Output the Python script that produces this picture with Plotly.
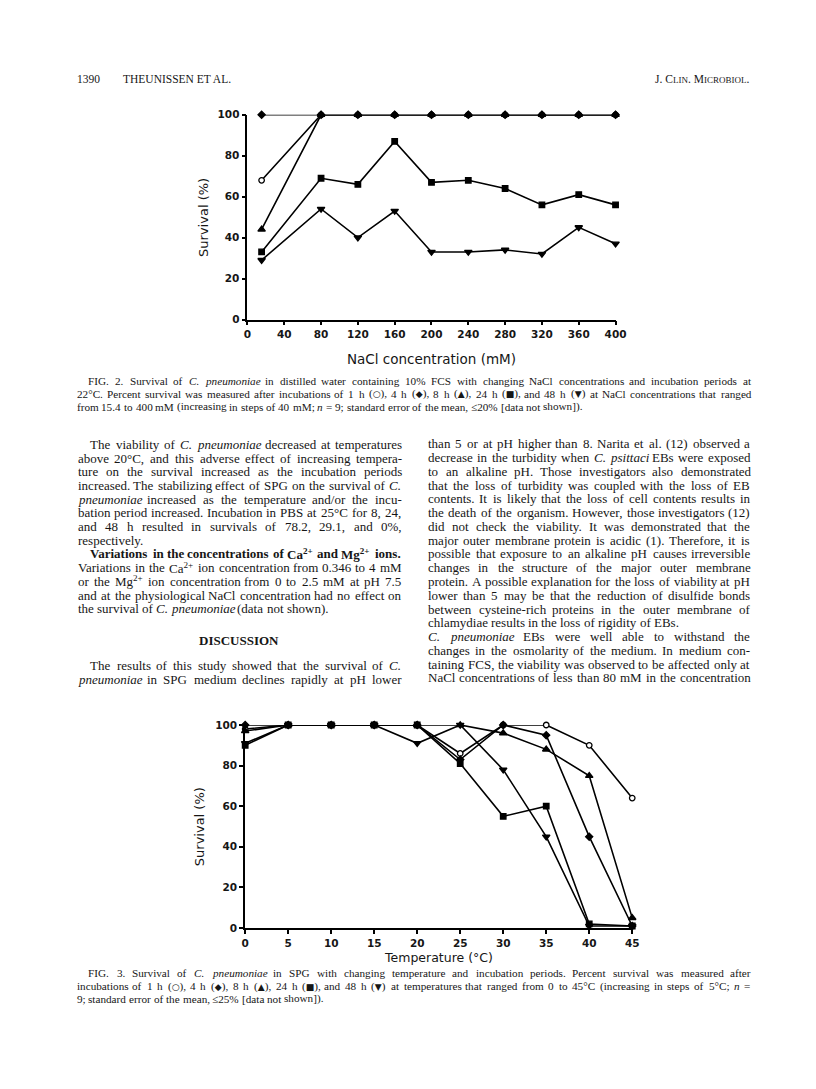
import re
import plotly.graph_objects as go

W, H = 816, 1089

# ---------------- data: FIG. 2, survival vs NaCl concentration
nacl_mm = [15.4, 80, 120, 160, 200, 240, 280, 320, 360, 400]
nacl_1h = [68, 100, 100, 100, 100, 100, 100, 100, 100, 100]
nacl_4h = [100, 100, 100, 100, 100, 100, 100, 100, 100, 100]
nacl_8h = [44, 100, 100, 100, 100, 100, 100, 100, 100, 100]
nacl_24h = [33, 69, 66, 87, 67, 68, 64, 56, 61, 56]
nacl_48h = [29, 54, 40, 53, 33, 33, 34, 32, 45, 37]
nacl_ticks = [0, 40, 80, 120, 160, 200, 240, 280, 320, 360, 400]

# ---------------- data: FIG. 3, survival vs temperature
temp_c = [0, 5, 10, 15, 20, 25, 30, 35, 40, 45]
temp_1h = [98, 100, 100, 100, 100, 86, 100, 100, 90, 64]
temp_4h = [100, 100, 100, 100, 100, 83, 100, 95, 45, 1]
temp_8h = [97, 100, 100, 100, 100, 100, 96, 88, 75, 5]
temp_24h = [90, 100, 100, 100, 100, 81, 55, 60, 2, 1]
temp_48h = [91, 100, 100, 100, 91, 100, 78, 45, 1, 1]
temp_ticks = [0, 5, 10, 15, 20, 25, 30, 35, 40, 45]
survival_ticks = [0, 20, 40, 60, 80, 100]

# ---------------- page text  (indent, justify, text)
fig2_caption = [
    (1, 1, "FIG. 2. Survival of <i>C. pneumoniae</i> in distilled water containing 10% FCS with changing NaCl concentrations and incubation periods at"),
    (0, 1, "22°C. Percent survival was measured after incubations of 1 h (○), 4 h (◆), 8 h (▲), 24 h (■), and 48 h (▼) at NaCl concentrations that ranged"),
    (0, 0, "from 15.4 to 400 mM (increasing in steps of 40 mM; <i>n</i> = 9; standard error of the mean, ≤20% [data not shown])."),
]
fig3_caption = [
    (1, 1, "FIG. 3. Survival of <i>C. pneumoniae</i> in SPG with changing temperature and incubation periods. Percent survival was measured after"),
    (0, 1, "incubations of 1 h (○), 4 h (◆), 8 h (▲), 24 h (■), and 48 h (▼) at temperatures that ranged from 0 to 45°C (increasing in steps of 5°C; <i>n</i> ="),
    (0, 0, "9; standard error of the mean, ≤25% [data not shown])."),
]
left_col = [
    (1, 1, "The viability of <i>C. pneumoniae</i> decreased at temperatures"),
    (0, 1, "above 20°C, and this adverse effect of increasing tempera-"),
    (0, 1, "ture on the survival increased as the incubation periods"),
    (0, 1, "increased. The stabilizing effect of SPG on the survival of <i>C.</i>"),
    (0, 1, "<i>pneumoniae</i> increased as the temperature and/or the incu-"),
    (0, 1, "bation period increased. Incubation in PBS at 25°C for 8, 24,"),
    (0, 1, "and 48 h resulted in survivals of 78.2, 29.1, and 0%,"),
    (0, 0, "respectively."),
    (1, 1, "<b>Variations in the concentrations of Ca<sup>2+</sup> and Mg<sup>2+</sup> ions.</b>"),
    (0, 1, "Variations in the Ca<sup>2+</sup> ion concentration from 0.346 to 4 mM"),
    (0, 1, "or the Mg<sup>2+</sup> ion concentration from 0 to 2.5 mM at pH 7.5"),
    (0, 1, "and at the physiological NaCl concentration had no effect on"),
    (0, 0, "the survival of <i>C. pneumoniae</i> (data not shown)."),
]
discussion = [
    (1, 1, "The results of this study showed that the survival of <i>C.</i>"),
    (0, 1, "<i>pneumoniae</i> in SPG medium declines rapidly at pH lower"),
]
right_col = [
    (0, 1, "than 5 or at pH higher than 8. Narita et al. (12) observed a"),
    (0, 1, "decrease in the turbidity when <i>C. psittaci</i> EBs were exposed"),
    (0, 1, "to an alkaline pH. Those investigators also demonstrated"),
    (0, 1, "that the loss of turbidity was coupled with the loss of EB"),
    (0, 1, "contents. It is likely that the loss of cell contents results in"),
    (0, 1, "the death of the organism. However, those investigators (12)"),
    (0, 1, "did not check the viability. It was demonstrated that the"),
    (0, 1, "major outer membrane protein is acidic (1). Therefore, it is"),
    (0, 1, "possible that exposure to an alkaline pH causes irreversible"),
    (0, 1, "changes in the structure of the major outer membrane"),
    (0, 1, "protein. A possible explanation for the loss of viability at pH"),
    (0, 1, "lower than 5 may be that the reduction of disulfide bonds"),
    (0, 1, "between cysteine-rich proteins in the outer membrane of"),
    (0, 0, "chlamydiae results in the loss of rigidity of EBs."),
    (1, 1, "<i>C. pneumoniae</i> EBs were well able to withstand the"),
    (0, 1, "changes in the osmolarity of the medium. In medium con-"),
    (0, 1, "taining FCS, the viability was observed to be affected only at"),
    (0, 1, "NaCl concentrations of less than 80 mM in the concentration"),
]

# Times Roman advance widths (1/1000 em), used to spread words for justified lines
TIMES_W = {' ': 250, '%': 833, '(': 333, ')': 333, ',': 250, '-': 333, '.': 250, '/': 278,
           ':': 278, ';': 278, '=': 564, '[': 333, ']': 333, '°': 400, '≤': 549, '+': 564,
           '○': 650, '◆': 620, '▲': 620, '■': 620, '▼': 620}
TIMES_W.update({d: 500 for d in '0123456789'})
TIMES_W.update(dict(zip('ABCDEFGHIJKLMNOPQRSTUVWXYZ',
                        [722, 667, 667, 722, 611, 556, 722, 722, 333, 389, 722, 611, 889,
                         722, 722, 556, 722, 667, 556, 611, 722, 722, 944, 722, 722, 611])))
TIMES_W.update(dict(zip('abcdefghijklmnopqrstuvwxyz',
                        [444, 500, 444, 500, 444, 333, 500, 500, 278, 278, 500, 278, 778,
                         500, 500, 500, 500, 333, 389, 278, 500, 500, 722, 500, 500, 444])))

SERIF = "Liberation Serif, Times New Roman, serif"
SANS = "DejaVu Sans, Verdana, sans-serif"
INK = "#161616"
SHAPES = '○◆▲■▼'

annotations = []


def split_words(line):
    words, state = [], []
    for w in line.split(' '):
        prefix = ''.join(f'<{t}>' for t in state)
        for m in re.finditer(r'<(/?)(i|b)>', w):
            if m.group(1):
                state.remove(m.group(2))
            else:
                state.append(m.group(2))
        suffix = ''.join(f'</{t}>' for t in reversed(state))
        words.append(prefix + w + suffix)
    return words


def word_width(word, size):
    total, bold, sup = 0, False, False
    for tok in re.split(r'(<[^>]+>)', word):
        if tok.startswith('<'):
            tag = tok.strip('</>')
            on = not tok.startswith('</')
            if tag == 'b':
                bold = on
            elif tag == 'sup':
                sup = on
            continue
        for ch in tok:
            w = TIMES_W.get(ch, 600)
            if bold:
                w *= 1.13
            if sup:
                w *= 0.75
            total += w
    return total * size / 1000 + 0.5


def add_text(text, x, y, size, anchor='left', family=SERIF, angle=0):
    annotations.append(dict(x=x / W, y=1 - y / H, xref='paper', yref='paper', text=text,
                            xanchor=anchor, yanchor='middle', showarrow=False, borderpad=0,
                            textangle=angle, font=dict(family=family, size=size, color=INK)))


def set_lines(lines, x0, x1, y0, step, size, indent):
    for i, (ind, just, line) in enumerate(lines):
        y = y0 + i * step
        start = x0 + (indent if ind else 0)
        words = split_words(line)
        widths = [word_width(w, size) for w in words]
        gap = 0.25 * size
        if just and len(words) > 1:
            gap = max((x1 - start - sum(widths)) / (len(words) - 1), 0.15 * size)
        x = start
        for w, wd in zip(words, widths):
            for ch in SHAPES:
                w = w.replace(ch, f"<span style='font-family:DejaVu-Sans,DejaVu Sans;font-size:{size * 0.8:.1f}px'>{ch}</span>")
            add_text(w, x, y, size)
            x += wd + gap


# running head
add_text("1390", 73, 74, 11.5)
add_text("THEUNISSEN ET AL.", 120, 74, 11.5)
add_text("J. C<span style='font-size:9px'>LIN</span>. M<span style='font-size:9px'>ICROBIOL</span>.", 760, 74, 11.5, anchor='right')

# captions and body text
set_lines(fig2_caption, 73, 760, 379, 13, 11.2, 12)
set_lines(fig3_caption, 73, 760, 978, 13, 11.2, 12)
set_lines(left_col, 74, 404, 443.3, 13.85, 13, 13)
add_text("<b>DISCUSSION</b>", 239, 641.7, 13, anchor='center')
set_lines(discussion, 74, 404, 666.7, 13.9, 13, 13)
set_lines(right_col, 431, 759, 442.7, 13.92, 13, 0)

# axis titles
add_text("NaCl concentration (mM)", 436, 357, 13.5, anchor='center', family=SANS)
add_text("Survival (%)", 203, 214, 13, anchor='center', family=SANS, angle=-90)
add_text("Temperature (°C)", 443, 962, 12.5, anchor='center', family=SANS)
add_text("Survival (%)", 200, 830, 13, anchor='center', family=SANS, angle=-90)

fig = go.Figure()

# drawing order: open circles underneath, diamonds on top
styles = {
    '1 h': ('circle', 5.5, 'white'),
    '8 h': ('triangle-up', 6.5, 'black'),
    '48 h': ('triangle-down', 6.5, 'black'),
    '24 h': ('square', 5.5, 'black'),
    '4 h': ('diamond', 5.5, 'black'),
}
nacl_series = {'1 h': nacl_1h, '4 h': nacl_4h, '8 h': nacl_8h, '24 h': nacl_24h, '48 h': nacl_48h}
temp_series = {'1 h': temp_1h, '4 h': temp_4h, '8 h': temp_8h, '24 h': temp_24h, '48 h': temp_48h}

for xs, series, xa, ya in [(nacl_mm, nacl_series, 'x', 'y'), (temp_c, temp_series, 'x2', 'y2')]:
    for name, (sym, size, fill) in styles.items():
        fig.add_trace(go.Scatter(x=xs, y=series[name], name=name, mode='lines+markers',
                                 cliponaxis=False,
                                 line=dict(color='black', width=1.6),
                                 marker=dict(symbol=sym, size=size, color=fill,
                                             line=dict(color='black', width=1.3)),
                                 xaxis=xa, yaxis=ya))

axis_style = dict(showline=True, linecolor='black', linewidth=1.8, ticks='outside', ticklen=4,
                  tickwidth=1.5, tickcolor='black', showgrid=False, zeroline=False,
                  tickfont=dict(family=SANS, size=10.5, color=INK, weight='bold'))

fig.update_layout(
    width=W, height=H,
    margin=dict(l=0, r=0, t=0, b=0),
    paper_bgcolor='white', plot_bgcolor='white',
    showlegend=False,
    xaxis=dict(domain=[248 / W, 623 / W], range=[0, 400], tickvals=nacl_ticks,
               anchor='y', **axis_style),
    yaxis=dict(domain=[1 - 317 / H, 1 - 110 / H], range=[0, 100], tickvals=survival_ticks,
               anchor='x', **axis_style),
    xaxis2=dict(domain=[245.7 / W, 640 / W], range=[0, 45], tickvals=temp_ticks,
                anchor='y2', **axis_style),
    yaxis2=dict(domain=[1 - 932.3 / H, 1 - 727 / H], range=[0, 100], tickvals=survival_ticks,
                anchor='x2', **axis_style),
    annotations=annotations,
)

fig.write_html("out.html", config={'displayModeBar': False},
               post_script="document.body.style.margin='0';")
